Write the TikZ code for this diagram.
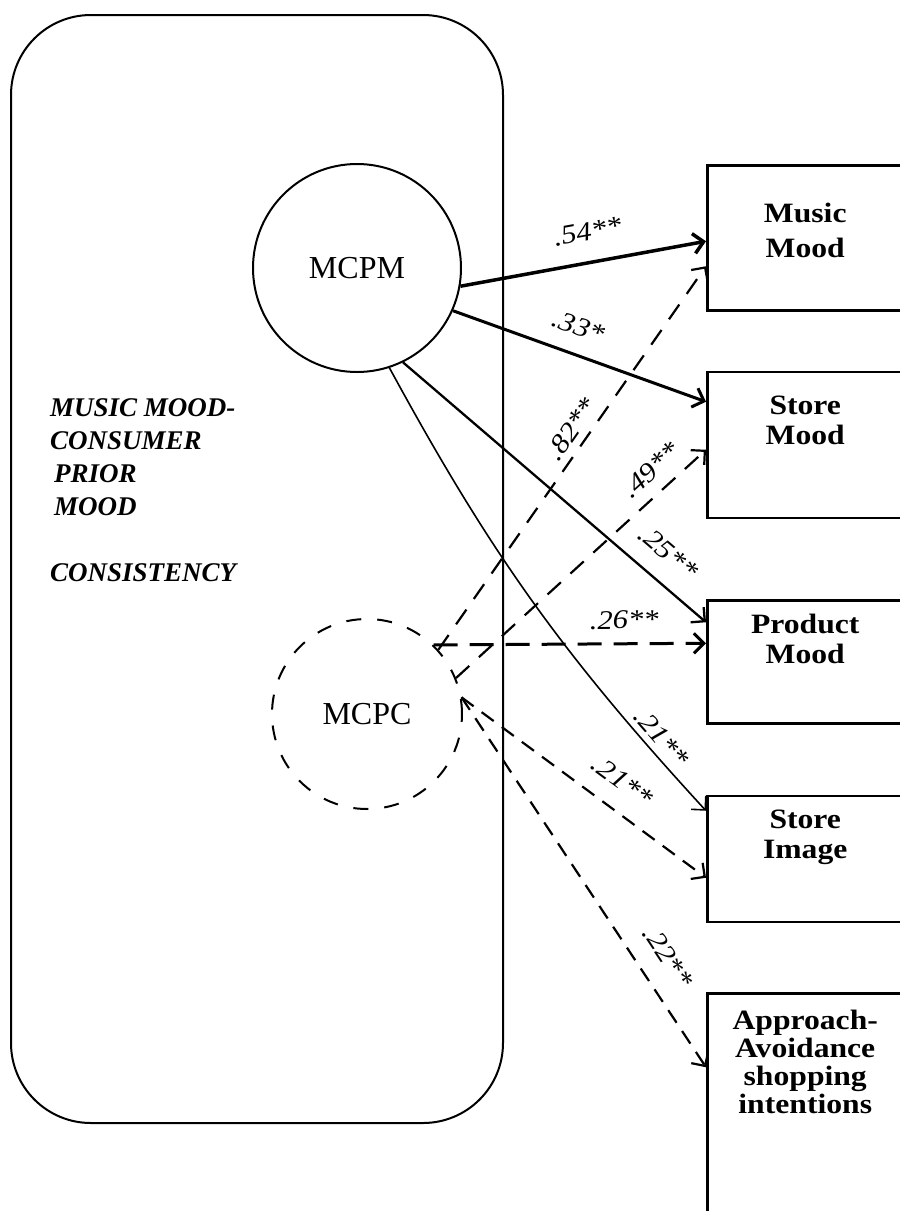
\documentclass[tikz,border=0pt]{standalone}
\usepackage{fontspec}
\setmainfont{Liberation Serif}
\newfontfamily\widefont[FakeStretch=1.13]{Liberation Serif}
\usetikzlibrary{positioning, arrows.meta}

\begin{document}
\begin{tikzpicture}[x=1pt, y=-1pt,
        solidarrow/.style={-{Straight Barb[length=10pt,width=20pt]}, line width=2pt},
        dasharrow/.style={solidarrow, line width=2.2pt, dash pattern=on 18pt off 13pt},
        coef/.style={font=\widefont\fontsize{27}{29}\selectfont\itshape, inner sep=0pt, sloped},
        latent/.style={circle, draw, line width=2pt, font=\fontsize{32}{36}\selectfont},
        outbox/.style={draw, line width=2.5pt, minimum width=196pt, anchor=north west},
        boxtext/.style={font=\widefont\fontsize{28}{30}\selectfont\bfseries, align=center, anchor=north, inner sep=0pt}]
        \useasboundingbox (0,0) rectangle (900,1211);
        \node[draw, line width=2pt, rounded corners=80pt, minimum width=492pt, minimum height=1108pt, anchor=north west] (frame) at (10,14) {};
        \node[font=\fontsize{27}{33}\selectfont\bfseries\itshape, align=left, anchor=north west, inner sep=0pt] (title) at (50,398)
            {MUSIC MOOD-\\CONSUMER\\\hspace{4pt}PRIOR\\\hspace{4pt}MOOD\\[33pt]CONSISTENCY};
        \node[latent, minimum size=208pt] (mcpm) at (357,268) {MCPM};
        \node[latent, dash pattern=on 15pt off 16pt, minimum size=190pt] (mcpc) at (367,714) {MCPC};

        \node[outbox, minimum height=145pt, label={[boxtext, font=\widefont\fontsize{28}{35}\selectfont\bfseries, yshift=-39pt]north:Music\\Mood}] (music) at (706,164) {};
        \node[outbox, minimum height=146pt, below=59pt of music, label={[boxtext, yshift=-25pt]north:Store\\Mood}] (smood) {};
        \node[outbox, minimum height=123pt, below=80pt of smood, label={[boxtext, yshift=-15pt]north:Product\\Mood}] (pmood) {};
        \node[outbox, minimum height=126pt, below=70pt of pmood, label={[boxtext, yshift=-15pt]north:Store\\Image}] (simage) {};
        \node[outbox, minimum height=222pt, below=69pt of simage, label={[boxtext, font=\widefont\fontsize{28}{28}\selectfont\bfseries, yshift=-18pt]north:Approach-\\Avoidance\\shopping\\intentions}] (appr) {};

        \draw[solidarrow, line width=3.5pt] (mcpm.-10) -- node[coef, pos=0.54, above=20pt] {.54**} ([yshift=-3.5pt]music.west);
        \draw[solidarrow, line width=3pt] (mcpm.-24) -- node[coef, pos=0.46, above=17pt] {.33*} ([yshift=43pt]smood.west);
        \draw[solidarrow, line width=2.3pt] (mcpm.-64) -- node[coef, pos=0.815, above=18pt] {.25**} ([yshift=39.5pt]pmood.west);
        \draw[solidarrow, line width=1.6pt] (mcpm.-72) to[bend right=7] node[coef, pos=0.86, above=6pt] {.21**} ([yshift=48pt]simage.west);

        \draw[dasharrow] (mcpc.42) -- node[coef, pos=0.55, above=7pt] {.82**} ([yshift=-28.5pt]music.west);
        \draw[dasharrow] (mcpc.22) -- node[coef, pos=0.84, above=12pt] {.49**} ([yshift=-5pt]smood.west);
        \draw[dasharrow, line width=3pt, dash pattern=on 24pt off 12pt] (mcpc.46) -- node[coef, pos=0.7, above=13pt] {.26**} ([yshift=18.5pt]pmood.west);
        \draw[dasharrow, dash pattern=on 15pt off 10pt] (mcpc.10) -- node[coef, pos=0.59, above=18pt] {.21**} ([yshift=-19pt]simage.west);
        \draw[dasharrow, dash pattern=on 15pt off 10pt] (mcpc.10) -- node[coef, pos=0.745, above=19pt] {.22**} ([yshift=37pt]appr.west);
    \end{tikzpicture}
\end{document}
